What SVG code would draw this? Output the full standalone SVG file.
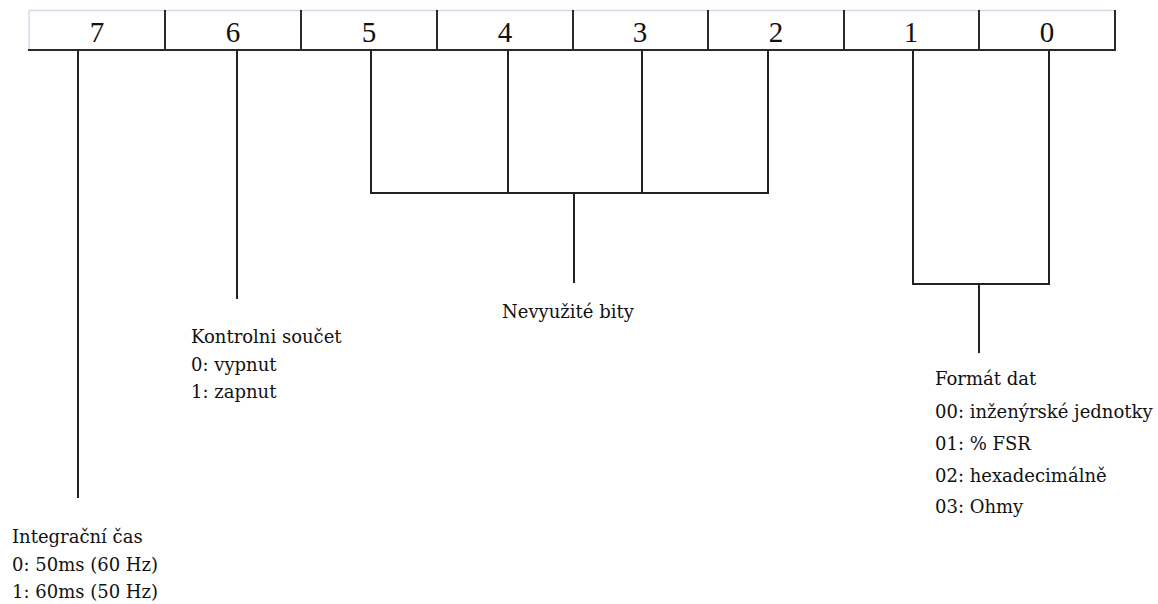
<svg xmlns="http://www.w3.org/2000/svg" width="1158" height="604" viewBox="0 0 1158 604">
<style>
.bg{fill:#ffffff}
.cellline{stroke:#2a2a2a;stroke-width:2;fill:none}
.light{stroke:#d4dbe8;stroke-width:1.5;fill:none}
.conn{stroke:#222222;stroke-width:2;fill:none}
.digit{font-family:'Liberation Serif','Times New Roman','DejaVu Serif',serif;font-size:29px;fill:#111;text-anchor:middle}
.lbl{font-family:'DejaVu Serif',serif;font-size:18px;fill:#111}
</style>
<rect class="bg" x="0" y="0" width="1158" height="604"/>
<g id="register">
<line class="light" x1="29" y1="10.5" x2="1115" y2="10.5"/>
<line class="light" x1="29" y1="10.5" x2="29" y2="50"/>
<line class="cellline" x1="28" y1="50" x2="1116" y2="50"/>
<line class="cellline" x1="1115" y1="10" x2="1115" y2="51"/>
<line class="cellline" x1="165" y1="10" x2="165" y2="50"/>
<line class="cellline" x1="301" y1="10" x2="301" y2="50"/>
<line class="cellline" x1="437" y1="10" x2="437" y2="50"/>
<line class="cellline" x1="573" y1="10" x2="573" y2="50"/>
<line class="cellline" x1="708" y1="10" x2="708" y2="50"/>
<line class="cellline" x1="844" y1="10" x2="844" y2="50"/>
<line class="cellline" x1="979" y1="10" x2="979" y2="50"/>
<text class="digit" x="97" y="42">7</text>
<text class="digit" x="233" y="42">6</text>
<text class="digit" x="369" y="42">5</text>
<text class="digit" x="505" y="42">4</text>
<text class="digit" x="640" y="42">3</text>
<text class="digit" x="776" y="42">2</text>
<text class="digit" x="911" y="42">1</text>
<text class="digit" x="1047" y="42">0</text>
</g>
<g id="connectors">
<line class="conn" x1="78" y1="51" x2="78" y2="498"/>
<line class="conn" x1="237" y1="51" x2="237" y2="299"/>
<polyline class="conn" points="371,51 371,193 768,193 768,51"/>
<line class="conn" x1="508" y1="51" x2="508" y2="193"/>
<line class="conn" x1="642" y1="51" x2="642" y2="193"/>
<line class="conn" x1="574" y1="193" x2="574" y2="283"/>
<polyline class="conn" points="913,51 913,284 1049,284 1049,51"/>
<line class="conn" x1="979" y1="284" x2="979" y2="353"/>
</g>
<g id="bit7">
<text class="lbl" x="12" y="543">Integrační čas</text>
<text class="lbl" x="12" y="571">0: 50ms (60 Hz)</text>
<text class="lbl" x="12" y="598">1: 60ms (50 Hz)</text>
</g>
<g id="bit6">
<text class="lbl" x="191" y="343">Kontrolni součet</text>
<text class="lbl" x="191" y="371">0: vypnut</text>
<text class="lbl" x="191" y="398">1: zapnut</text>
</g>
<g id="bits5-2">
<text class="lbl" x="502" y="318">Nevyužité bity</text>
</g>
<g id="bits1-0">
<text class="lbl" x="935" y="385">Formát dat</text>
<text class="lbl" x="935" y="418">00: inženýrské jednotky</text>
<text class="lbl" x="935" y="450">01: % FSR</text>
<text class="lbl" x="935" y="482">02: hexadecimálně</text>
<text class="lbl" x="935" y="513">03: Ohmy</text>
</g>
</svg>
